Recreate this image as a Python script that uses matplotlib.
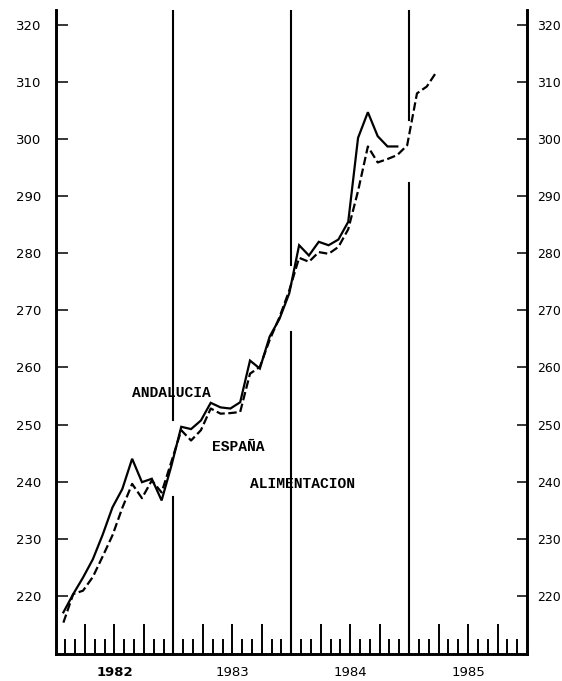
import numpy as np
import matplotlib
matplotlib.use("Agg")
import matplotlib.pyplot as plt
from matplotlib.transforms import blended_transform_factory

# monthly index, 0 = January 1982
andalucia = [217.1, 220.3, 223.2, 226.4, 230.7, 235.5, 238.7, 244.0, 239.9, 240.5, 236.7, 242.8,
             249.6, 249.2, 250.7, 253.8, 253.0, 252.8, 253.9, 261.2, 259.8, 265.4, 268.5, 273.0,
             281.4, 279.6, 282.0, 281.4, 282.4, 285.5, 300.2, 304.7, 300.5, 298.7, 298.7]
espana = [215.3, 220.3, 220.9, 223.3, 226.9, 230.6, 235.4, 239.6, 237.1, 240.2, 238.1, 243.5,
          249.0, 247.2, 249.0, 252.8, 251.9, 252.0, 252.2, 258.9, 260.1, 264.8, 268.8, 273.5,
          279.2, 278.5, 280.2, 279.9, 281.1, 284.2, 290.9, 298.7, 295.9, 296.5, 297.2, 298.9,
          308.0, 309.2, 311.8]
years = ["1982", "1983", "1984", "1985"]
y_ticks = [220, 230, 240, 250, 260, 270, 280, 290, 300, 310, 320]
# vertical year separators are interrupted where the curves cross them
year_line_gaps = [(237.3, 250.8), (266.2, 278.0), (292.3, 303.4)]
labels = [("ANDALUCIA", 11.75, 255.5), ("ESPAÑA", 18.6, 246.0), ("ALIMENTACION", 25.1, 239.6)]

y_lo, y_hi = 209.8, 322.6

fig = plt.figure(figsize=(5.62, 6.81), dpi=100)
ax = fig.add_axes([0.0988, 0.0396, 0.8389, 0.9457])

x_a = np.arange(len(andalucia)) + 0.8
x_e = np.arange(len(espana)) + 0.8
ax.plot(x_a, andalucia, color="black", lw=1.6, solid_joinstyle="miter")
ax.plot(x_e, espana, color="black", lw=1.6, linestyle=(0, (3.8, 1.6)))

# year separators
for k, (g_lo, g_hi) in enumerate(year_line_gaps):
    xv = 12 * (k + 1)
    ax.plot([xv, xv], [y_lo, g_lo], color="black", lw=1.5)
    ax.plot([xv, xv], [g_hi, y_hi], color="black", lw=1.5)

ax.set_xlim(0, 48)
ax.set_ylim(y_lo, y_hi)

# monthly ticks, quarters longer
quarter = [m for m in range(1, 48) if m % 3 == 0 and m % 12 != 0]
month = [m for m in range(1, 48) if m % 3 != 0]
ax.set_xticks(quarter)
ax.set_xticks(month, minor=True)
ax.tick_params(axis="x", which="major", direction="in", length=21.5, width=1.4, labelbottom=False)
ax.tick_params(axis="x", which="minor", direction="in", length=10.8, width=1.4)

ax.set_yticks(y_ticks)
ax.tick_params(axis="y", which="major", direction="in", length=8.5, width=1.1,
               left=True, right=False, labelsize=9.5, pad=10)

# right-hand scale repeats the left one
ax2 = ax.twinx()
ax2.set_ylim(y_lo, y_hi)
ax2.set_yticks(y_ticks)
ax2.tick_params(axis="y", direction="in", length=7, width=1.1, labelsize=9, pad=7)

for a in (ax, ax2):
    for s in ["left", "right", "bottom"]:
        a.spines[s].set_linewidth(1.9)
    a.spines["top"].set_visible(False)

trans = blended_transform_factory(ax.transData, ax.transAxes)
for k, yr in enumerate(years):
    ax.text(12 * k + 6, -0.028, yr, transform=trans, ha="center", va="center",
            fontsize=9.5, fontweight="bold" if k == 0 else "normal")

for txt, xm, yv in labels:
    ax.text(xm, yv, txt, ha="center", va="center", family="Liberation Mono",
            fontsize=10.5, fontweight="bold")

fig.savefig("out.png", dpi=100)
